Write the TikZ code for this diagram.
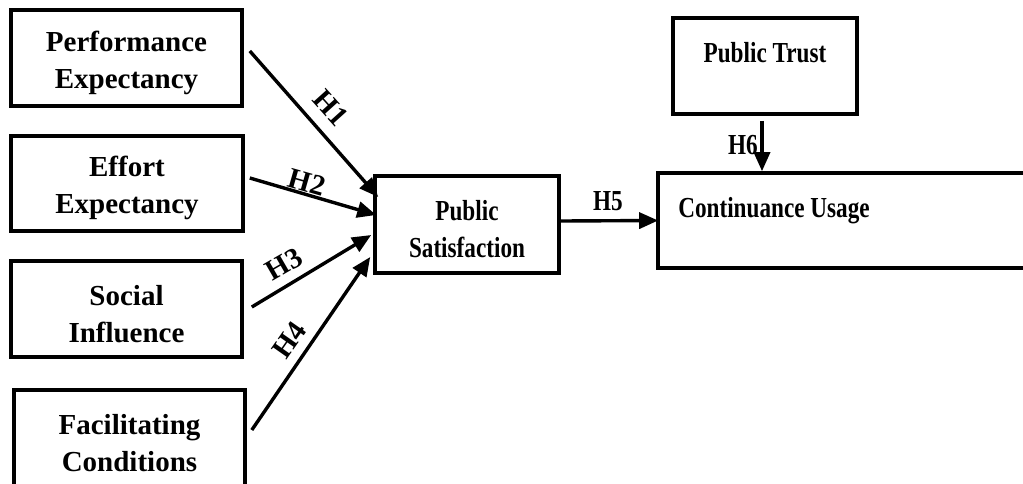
\documentclass[tikz,border=0pt]{standalone}
\usepackage{fontspec}
\setmainfont{Liberation Serif}
\newfontfamily\condfont{Liberation Serif}[FakeStretch=0.8]
\usetikzlibrary{arrows.meta,calc}
\newcommand{\topfix}{\rule{0pt}{30pt}}
\begin{document}
\begin{tikzpicture}[x=1pt,y=-1pt,
  box/.style={draw=black,line width=3.6pt,fill=white,inner sep=0pt,align=center,
    font=\fontsize{29}{37}\selectfont\bfseries},
  condbox/.style={box,font=\condfont\fontsize{29}{37}\selectfont\bfseries},
  lbl/.style={inner sep=0pt,font=\fontsize{29}{35}\selectfont\bfseries},
  condlbl/.style={inner sep=0pt,font=\condfont\fontsize{29}{35}\selectfont\bfseries},
  arr/.style={line width=3.4pt,-{Triangle[length=19pt,width=16pt]}}]
\clip (0,0) rectangle (1023,483);
\fill[white] (0,0) rectangle (1023,483);
% left boxes
\node[box,minimum width=231pt,minimum height=96pt] (pe) at (126.5,58) {\topfix Performance\\Expectancy};
\node[box,minimum width=232pt,minimum height=95pt] (ee) at (127,183.5) {\topfix Effort\\Expectancy};
\node[box,minimum width=231pt,minimum height=96pt] (si) at (126.5,309) {\topfix Social\\Influence};
\node[box,minimum width=231pt,minimum height=96pt] (fc) at (129.5,438) {\topfix Facilitating\\Conditions};
% middle and right boxes
\node[condbox,minimum width=184pt,minimum height=97pt] (ps) at (467,224.5) {\topfix Public\\Satisfaction};
\node[condbox,minimum width=184pt,minimum height=96pt] (pt) at (765,66) {};
\node[condbox,minimum width=382pt,minimum height=95pt] (cu) at (849,220.5) {};
\node[condlbl,anchor=base] (pttext) at (765,62) {Public Trust};
\node[condlbl,anchor=base] (cutext) at (774,217) {Continuance Usage};
% connectors
\draw[arr] ($(pe.east)+(6,-7)$) -- ($(ps.west)+(5,-27.5)$);
\draw[arr] ($(ee.east)+(5,-5.5)$) -- ($(ps.west)+(3,-9.5)$);
\draw[arr] ($(si.east)+(8,-2)$) -- ($(ps.west)+(-2,10.5)$);
\draw[arr] ($(fc.east)+(5,-8)$) -- ($(ps.west)+(-3,32.5)$);
\draw[arr] ($(ps.east)+(0,-3.5)$) -- ($(cu.west)+(2,0)$);
\coordinate (h6s) at ($(pt.south)+(-3,5)$);
\draw[arr] (h6s) -- (h6s |- cu.north);
% labels
\node[lbl,rotate=-48] (h1) at (331,108) {H1};
\node[lbl,rotate=-16] (h2) at (307,182) {H2};
\node[lbl,rotate=30] (h3) at (284,264) {H3};
\node[lbl,rotate=55] (h4) at (289,340) {H4};
\node[condlbl] (h5) at (608,201) {H5};
\node[condlbl] (h6) at (743,145) {H6};
\end{tikzpicture}
\end{document}
